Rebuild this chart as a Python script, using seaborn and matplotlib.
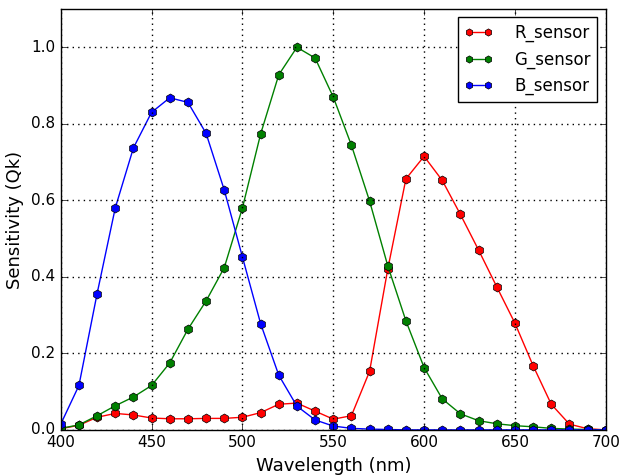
import matplotlib
matplotlib.use("Agg")
import matplotlib.pyplot as plt
import seaborn as sns
import numpy as np

# Spectral sensitivity of the three colour channels, sampled every 10 nm
wavelength = list(range(400, 701, 10))

r_sensor = [0.003, 0.012, 0.033, 0.043, 0.039, 0.031, 0.029, 0.029, 0.030, 0.030,
            0.033, 0.045, 0.067, 0.070, 0.049, 0.028, 0.037, 0.153, 0.420, 0.656,
            0.715, 0.652, 0.563, 0.470, 0.374, 0.279, 0.168, 0.067, 0.015, 0.003,
            0.000]

g_sensor = [0.004, 0.013, 0.037, 0.063, 0.086, 0.116, 0.175, 0.263, 0.337, 0.424,
            0.580, 0.773, 0.928, 1.000, 0.972, 0.870, 0.744, 0.598, 0.429, 0.285,
            0.163, 0.081, 0.042, 0.024, 0.016, 0.011, 0.008, 0.004, 0.002, 0.001,
            0.000]

b_sensor = [0.015, 0.116, 0.356, 0.580, 0.737, 0.830, 0.868, 0.856, 0.775, 0.627,
            0.452, 0.278, 0.143, 0.062, 0.026, 0.010, 0.004, 0.002, 0.001, 0.000,
            0.000, 0.000, 0.000, 0.000, 0.000, 0.000, 0.000, 0.000, 0.000, 0.000,
            0.000]

series = [("R_sensor", r_sensor, "red"),
          ("G_sensor", g_sensor, "green"),
          ("B_sensor", b_sensor, "blue")]

plt.style.use("classic")
plt.rcParams["figure.facecolor"] = "white"
plt.rcParams["font.family"] = ["DejaVu Sans"]

fig, ax = plt.subplots(figsize=(6.2, 4.75), dpi=100)
fig.subplots_adjust(left=0.098, right=0.977, top=0.981, bottom=0.095)

for name, values, colour in series:
    sns.lineplot(x=wavelength, y=values, ax=ax, color=colour, label=name,
                 marker="h", markersize=6.5, markeredgecolor="black",
                 markeredgewidth=0.5, linewidth=1.0, errorbar=None)

ax.set_xlim(400, 700)
ax.set_ylim(0, 1.1)
ax.set_xticks([400, 450, 500, 550, 600, 650, 700])
ax.set_yticks([0.0, 0.2, 0.4, 0.6, 0.8, 1.0])
ax.grid(True, linestyle=":", color="black", linewidth=1.0)
ax.set_xlabel("Wavelength (nm)", fontsize=13)
ax.set_ylabel("Sensitivity (Qk)", fontsize=13)
ax.tick_params(labelsize=11)

ax.legend(loc="upper right", numpoints=2, fontsize=12, fancybox=False,
          handlelength=1.7, handletextpad=1.3, markerscale=0.8)

fig.savefig("out.png", dpi=100, facecolor="white")
